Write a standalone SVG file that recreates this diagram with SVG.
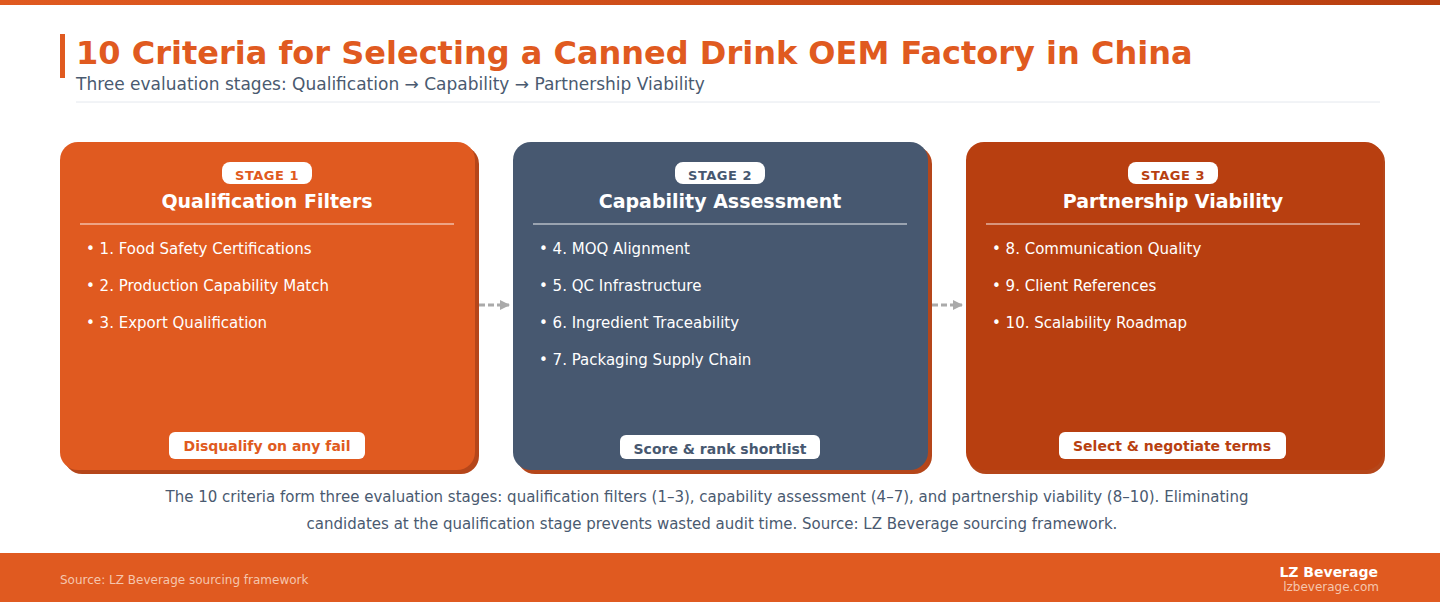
<svg xmlns="http://www.w3.org/2000/svg" width="1440" height="602" viewBox="0 0 1440 602">
<defs>
<linearGradient id="tb" x1="0" x2="1"><stop offset="0" stop-color="#E05A20"/><stop offset="1" stop-color="#B83F10"/></linearGradient>
<marker id="ah" markerWidth="10" markerHeight="10" refX="9" refY="5" orient="auto" markerUnits="userSpaceOnUse"><path d="M0,0 L10,5 L0,10 z" fill="#aaaaaa"/></marker>
</defs>
<style>
text{font-family:"DejaVu Sans",sans-serif}
.pill{fill:#fff}
.stg{font-size:13px;font-weight:bold;text-anchor:middle;letter-spacing:0.5px}
.hd{font-size:19px;font-weight:bold;fill:#fff;text-anchor:middle}
.it{font-size:15px;fill:#fff}
.bt{font-size:14px;font-weight:bold;text-anchor:middle}
.sep{stroke:#fff;stroke-width:1.2;opacity:0.9}
.cap{font-size:15px;fill:#4a5a70;text-anchor:middle}
</style>
<rect width="1440" height="602" fill="#fff"/>
<rect width="1440" height="5" fill="url(#tb)"/>
<rect x="60" y="34" width="5" height="44" fill="#E05A20"/>
<text x="76" y="64" font-size="32" font-weight="bold" fill="#E05A20">10 Criteria for Selecting a Canned Drink OEM Factory in China</text>
<text x="76" y="90" font-size="17" fill="#4a5a70">Three evaluation stages: Qualification → Capability → Partnership Viability</text>
<line x1="76" y1="102" x2="1380" y2="102" stroke="#e4e8ee" stroke-width="1"/>

<g id="connectors">
<line x1="479" y1="305" x2="509" y2="305" stroke="#aaaaaa" stroke-width="3" stroke-dasharray="6,3" marker-end="url(#ah)"/>
<line x1="932" y1="305" x2="962" y2="305" stroke="#aaaaaa" stroke-width="3" stroke-dasharray="6,3" marker-end="url(#ah)"/>
</g>

<g id="stage1">
<rect x="64" y="146" width="415" height="328" rx="18" fill="#B5461A"/>
<rect x="60" y="142" width="415" height="328" rx="18" fill="#E05A20"/>
<rect x="222" y="162" width="90" height="22" rx="8" class="pill"/>
<text x="267" y="180" class="stg" fill="#E05A20">STAGE 1</text>
<text x="267" y="208" class="hd">Qualification Filters</text>
<line x1="80" y1="224" x2="454" y2="224" class="sep"/>
<text x="86" y="254" class="it">•  1. Food Safety Certifications</text>
<text x="86" y="291" class="it">•  2. Production Capability Match</text>
<text x="86" y="328" class="it">•  3. Export Qualification</text>
<rect x="169" y="432" width="196" height="27" rx="6" class="pill"/>
<text x="267" y="451" class="bt" fill="#E05A20">Disqualify on any fail</text>
</g>

<g id="stage2">
<rect x="517" y="146" width="415" height="328" rx="18" fill="#B5461A"/>
<rect x="513" y="142" width="415" height="328" rx="18" fill="#475870"/>
<rect x="675" y="162" width="90" height="22" rx="8" class="pill"/>
<text x="720" y="180" class="stg" fill="#475870">STAGE 2</text>
<text x="720" y="208" class="hd">Capability Assessment</text>
<line x1="533" y1="224" x2="907" y2="224" class="sep"/>
<text x="539" y="254" class="it">•  4. MOQ Alignment</text>
<text x="539" y="291" class="it">•  5. QC Infrastructure</text>
<text x="539" y="328" class="it">•  6. Ingredient Traceability</text>
<text x="539" y="365" class="it">•  7. Packaging Supply Chain</text>
<rect x="620" y="435" width="200" height="24" rx="6" class="pill"/>
<text x="720" y="454" class="bt" fill="#475870">Score &amp; rank shortlist</text>
</g>

<g id="stage3">
<rect x="968" y="144" width="417" height="330" rx="18" fill="#B5461A"/>
<rect x="966" y="142" width="417" height="328" rx="18" fill="#B83F10"/>
<rect x="1128" y="162" width="90" height="22" rx="8" class="pill"/>
<text x="1173" y="180" class="stg" fill="#B83F10">STAGE 3</text>
<text x="1173" y="208" class="hd">Partnership Viability</text>
<line x1="986" y1="224" x2="1360" y2="224" class="sep"/>
<text x="992" y="254" class="it">•  8. Communication Quality</text>
<text x="992" y="291" class="it">•  9. Client References</text>
<text x="992" y="328" class="it">•  10. Scalability Roadmap</text>
<rect x="1059" y="432" width="227" height="27" rx="6" class="pill"/>
<text x="1172" y="451" class="bt" fill="#B83F10">Select &amp; negotiate terms</text>
</g>

<text x="707" y="502" class="cap">The 10 criteria form three evaluation stages: qualification filters (1–3), capability assessment (4–7), and partnership viability (8–10). Eliminating</text>
<text x="712" y="529" class="cap">candidates at the qualification stage prevents wasted audit time. Source: LZ Beverage sourcing framework.</text>

<rect x="0" y="553" width="1440" height="49" fill="#E05A20"/>
<text x="60" y="584" font-size="12" fill="#f5c6ae">Source: LZ Beverage sourcing framework</text>
<text x="1378" y="577" font-size="14" font-weight="bold" fill="#fff" text-anchor="end">LZ Beverage</text>
<text x="1379" y="591" font-size="12" fill="#f5c6ae" text-anchor="end">lzbeverage.com</text>
</svg>
